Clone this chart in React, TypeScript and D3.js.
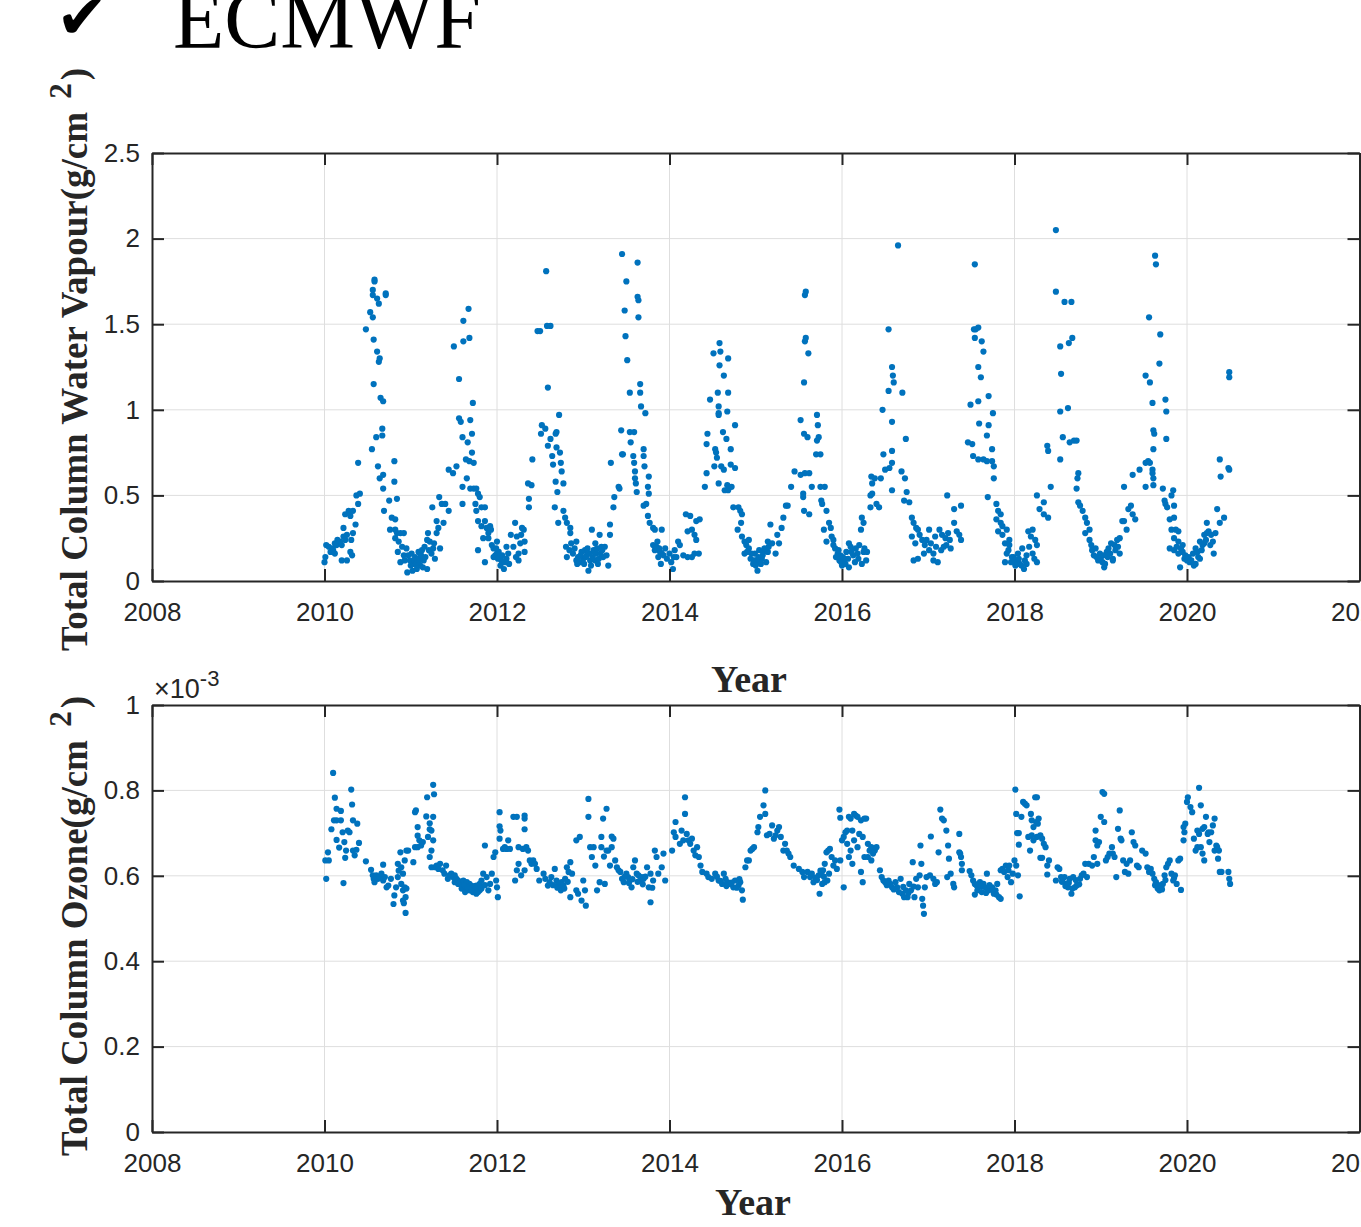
import React, { useEffect, useRef } from 'react';
import * as d3 from 'd3';

// tick values
const yearTicks = [2008, 2010, 2012, 2014, 2016, 2018, 2020, 2022];
const vapourTicks = [0, 0.5, 1, 1.5, 2, 2.5];
const ozoneTicks = [0, 0.2, 0.4, 0.6, 0.8, 1];

// [decimal year, g/cm^2]
const vapourData: [number, number][] = [
  [2010.00,0.11],[2010.01,0.14],[2010.02,0.21],[2010.05,0.20],[2010.07,0.17],[2010.09,0.19],[2010.10,0.18],[2010.12,0.22],[2010.12,0.16],[2010.14,0.21],[2010.15,0.24],[2010.18,0.23],[2010.20,0.21],[2010.20,0.12],[2010.22,0.26],[2010.22,0.31],[2010.24,0.24],[2010.24,0.39],[2010.26,0.27],[2010.26,0.12],[2010.28,0.41],[2010.30,0.17],[2010.30,0.38],[2010.31,0.24],[2010.32,0.15],[2010.33,0.28],[2010.33,0.41],[2010.36,0.33],[2010.37,0.50],[2010.39,0.45],[2010.39,0.69],[2010.41,0.51],
  [2010.48,1.47],[2010.53,1.57],[2010.55,0.77],[2010.56,1.54],[2010.56,1.70],[2010.56,1.67],[2010.57,1.41],[2010.57,1.15],[2010.58,1.76],[2010.58,1.75],[2010.60,0.84],[2010.61,1.65],[2010.61,1.34],[2010.62,0.67],[2010.63,1.62],[2010.63,1.28],[2010.64,1.30],[2010.64,0.60],[2010.65,1.07],[2010.67,0.89],[2010.67,0.85],[2010.68,1.05],[2010.68,0.62],[2010.68,0.54],[2010.69,0.41],[2010.71,1.68],[2010.71,1.67],[2010.75,0.47],[2010.76,0.30],[2010.78,0.37],[2010.81,0.70],[2010.81,0.58],[2010.82,0.36],[2010.82,0.30],[2010.82,0.25],[2010.84,0.48],[2010.84,0.28],
  [2010.85,0.17],[2010.86,0.23],[2010.88,0.28],[2010.88,0.11],[2010.90,0.20],[2010.92,0.28],[2010.92,0.15],[2010.93,0.12],[2010.95,0.19],[2010.96,0.05],[2010.99,0.12],[2011.01,0.16],[2011.02,0.06],[2011.03,0.10],[2011.05,0.14],[2011.07,0.07],[2011.08,0.13],[2011.09,0.17],[2011.11,0.09],[2011.13,0.18],[2011.15,0.12],[2011.17,0.14],[2011.19,0.07],[2011.19,0.24],[2011.20,0.28],[2011.22,0.23],[2011.24,0.16],[2011.25,0.43],[2011.26,0.19],[2011.28,0.13],[2011.30,0.28],[2011.30,0.35],[2011.32,0.31],[2011.33,0.49],[2011.34,0.19],[2011.36,0.45],[2011.38,0.34],[2011.40,0.45],[2011.44,0.41],
  [2010.97,0.15],[2011.00,0.09],[2011.04,0.12],[2011.06,0.10],[2011.10,0.12],[2011.12,0.15],[2011.14,0.08],[2011.16,0.20],[2011.21,0.18],[2011.27,0.22],
  [2011.44,0.65],[2011.49,0.63],[2011.50,1.37],[2011.53,0.67],[2011.56,1.18],[2011.56,0.95],[2011.58,0.93],[2011.60,0.45],[2011.60,0.84],[2011.60,0.55],[2011.61,1.52],[2011.61,1.40],[2011.64,0.71],[2011.65,0.60],[2011.66,0.81],[2011.67,1.59],[2011.68,1.42],[2011.68,0.70],[2011.69,0.94],[2011.69,0.54],[2011.71,0.86],[2011.71,0.75],[2011.72,1.04],[2011.73,0.69],[2011.73,0.54],[2011.75,0.45],[2011.76,0.54],[2011.76,0.41],[2011.78,0.51],[2011.78,0.35],[2011.78,0.18],[2011.80,0.49],[2011.82,0.43],[2011.82,0.32],[2011.84,0.25],[2011.86,0.43],[2011.86,0.35],[2011.86,0.11],[2011.88,0.31],[2011.90,0.28],[2011.90,0.25],[2011.92,0.32],[2011.93,0.30],
  [2011.96,0.19],[2011.96,0.14],[2011.98,0.15],[2012.00,0.23],[2012.00,0.16],[2012.02,0.17],[2012.03,0.14],[2012.05,0.12],[2012.08,0.07],[2012.11,0.13],[2012.11,0.20],[2012.14,0.10],[2012.16,0.27],[2012.21,0.34],[2012.23,0.26],[2012.25,0.16],[2012.25,0.12],[2012.27,0.22],[2012.29,0.31],[2012.31,0.30],[2012.32,0.23],[2012.32,0.17],
  [2011.94,0.21],[2011.99,0.19],[2012.01,0.13],[2012.04,0.09],[2012.06,0.15],[2012.09,0.11],[2012.13,0.16],[2012.19,0.20],[2012.22,0.14],[2012.28,0.27],
  [2012.36,0.57],[2012.37,0.48],[2012.37,0.43],[2012.40,0.56],[2012.41,0.71],[2012.47,1.46],[2012.50,1.46],[2012.51,0.86],[2012.52,0.91],[2012.56,0.89],[2012.57,1.81],[2012.58,1.49],[2012.59,1.13],[2012.59,0.79],[2012.62,1.49],[2012.62,0.83],[2012.64,0.73],[2012.65,0.68],[2012.67,0.43],[2012.68,0.86],[2012.68,0.58],[2012.69,0.87],[2012.69,0.78],[2012.70,0.52],[2012.71,0.34],[2012.72,0.97],[2012.73,0.75],[2012.74,0.69],[2012.75,0.64],[2012.77,0.57],[2012.77,0.41],[2012.79,0.37],[2012.80,0.20],[2012.81,0.34],[2012.81,0.14],[2012.85,0.31],[2012.85,0.28],[2012.86,0.22],
  [2012.88,0.16],[2012.92,0.23],[2012.92,0.12],[2012.94,0.14],[2012.96,0.11],[2012.98,0.17],[2013.00,0.13],[2013.02,0.18],[2013.04,0.15],[2013.06,0.06],[2013.08,0.12],[2013.10,0.30],[2013.12,0.18],[2013.14,0.22],[2013.14,0.12],[2013.15,0.16],[2013.17,0.10],[2013.19,0.27],[2013.21,0.20],[2013.23,0.14],[2013.25,0.20],[2013.27,0.15],[2013.29,0.09],[2013.31,0.27],[2013.31,0.33],
  [2012.84,0.18],[2012.90,0.19],[2012.93,0.10],[2012.97,0.15],[2013.01,0.10],[2013.03,0.14],[2013.05,0.19],[2013.07,0.16],[2013.09,0.09],[2013.11,0.14],[2013.13,0.17],[2013.16,0.19],[2013.18,0.13],[2013.20,0.16],[2013.22,0.18],
  [2013.32,0.69],[2013.35,0.43],[2013.36,0.49],[2013.41,0.55],[2013.42,0.54],[2013.44,0.88],[2013.45,1.91],[2013.45,0.74],[2013.46,0.74],[2013.48,1.58],[2013.49,1.43],[2013.50,1.75],[2013.51,1.29],[2013.54,1.10],[2013.54,0.87],[2013.55,0.81],[2013.58,0.73],[2013.59,0.87],[2013.59,0.69],[2013.60,0.64],[2013.60,0.60],[2013.61,0.57],[2013.62,0.52],[2013.63,1.86],[2013.63,1.66],[2013.64,1.64],[2013.64,1.54],[2013.66,1.15],[2013.66,1.10],[2013.67,1.02],[2013.70,0.77],[2013.70,0.73],[2013.70,0.44],[2013.71,0.67],[2013.72,0.98],[2013.73,0.45],[2013.75,0.55],[2013.75,0.38],[2013.76,0.61],[2013.76,0.51],[2013.77,0.34],[2013.81,0.31],[2013.81,0.21],[2013.83,0.30],[2013.83,0.18],[2013.85,0.20],[2013.87,0.14],[2013.89,0.17],[2013.90,0.10],[2013.91,0.30],[2013.91,0.16],
  [2013.86,0.23],[2013.88,0.19],[2013.93,0.15],[2013.95,0.19],[2013.97,0.13],[2014.00,0.16],[2014.05,0.14],
  [2014.02,0.11],[2014.04,0.07],[2014.06,0.18],[2014.08,0.14],[2014.10,0.23],[2014.12,0.21],[2014.16,0.15],[2014.19,0.39],[2014.21,0.29],[2014.21,0.14],[2014.24,0.38],[2014.26,0.30],[2014.26,0.14],[2014.29,0.27],[2014.29,0.16],[2014.31,0.35],[2014.31,0.24],[2014.34,0.16],[2014.35,0.36],
  [2014.41,0.55],[2014.43,0.63],[2014.43,0.80],[2014.44,0.86],[2014.47,1.06],[2014.51,1.33],[2014.52,0.67],[2014.53,0.77],[2014.54,0.75],[2014.55,0.72],[2014.56,1.10],[2014.57,1.02],[2014.57,0.98],[2014.57,0.97],[2014.57,0.57],[2014.58,1.39],[2014.58,1.26],[2014.59,1.34],[2014.60,0.67],[2014.62,0.87],[2014.63,1.20],[2014.63,0.65],[2014.64,0.53],[2014.66,0.83],[2014.67,0.99],[2014.67,0.56],[2014.68,1.30],[2014.68,1.10],[2014.68,0.53],[2014.71,0.77],[2014.71,0.68],[2014.72,0.55],[2014.74,0.43],[2014.76,0.91],[2014.76,0.66],[2014.79,0.30],[2014.80,0.43],[2014.82,0.41],[2014.83,0.34],[2014.84,0.39],
  [2014.84,0.26],[2014.87,0.23],[2014.87,0.16],[2014.89,0.21],[2014.92,0.19],[2014.92,0.24],[2014.94,0.13],[2014.97,0.10],[2014.99,0.16],[2015.01,0.12],[2015.02,0.06],[2015.04,0.18],[2015.06,0.10],[2015.07,0.13],[2015.09,0.17],[2015.12,0.11],[2015.14,0.23],[2015.14,0.17],[2015.17,0.33],[2015.19,0.22],[2015.23,0.16],[2015.25,0.27],[2015.27,0.22],[2015.30,0.31],[2015.32,0.37],[2015.35,0.44],[2015.37,0.44],
  [2014.90,0.17],[2014.95,0.16],[2014.98,0.12],[2015.00,0.09],[2015.03,0.14],[2015.05,0.11],[2015.08,0.15],[2015.10,0.19],[2015.15,0.20],
  [2015.41,0.55],[2015.45,0.64],[2015.52,0.62],[2015.52,0.94],[2015.55,0.51],[2015.55,0.49],[2015.56,0.86],[2015.56,1.16],[2015.56,0.41],[2015.57,0.63],[2015.57,1.67],[2015.57,1.40],[2015.58,1.69],[2015.58,1.42],[2015.60,0.84],[2015.61,1.33],[2015.62,0.63],[2015.62,0.39],[2015.65,0.55],[2015.70,0.74],[2015.71,0.97],[2015.71,0.82],[2015.72,0.91],[2015.73,0.84],[2015.75,0.74],[2015.75,0.55],[2015.76,0.47],[2015.77,0.45],[2015.79,0.30],[2015.80,0.55],[2015.82,0.41],[2015.82,0.23],[2015.85,0.34],[2015.87,0.31],
  [2015.90,0.24],[2015.90,0.21],[2015.92,0.19],[2015.95,0.16],[2015.97,0.12],[2015.98,0.15],[2016.00,0.09],[2016.03,0.13],[2016.05,0.17],[2016.08,0.22],[2016.08,0.08],[2016.10,0.20],[2016.13,0.15],[2016.15,0.11],[2016.18,0.16],[2016.20,0.21],[2016.22,0.30],[2016.23,0.10],[2016.23,0.37],[2016.25,0.17],[2016.25,0.34],[2016.28,0.12],[2016.29,0.17],
  [2015.88,0.26],[2015.93,0.14],[2015.96,0.18],[2015.99,0.11],[2016.01,0.14],[2016.04,0.10],[2016.07,0.13],[2016.11,0.17],[2016.16,0.19],[2016.19,0.13],[2016.26,0.19],
  [2016.33,0.50],[2016.33,0.43],[2016.34,0.61],[2016.35,0.51],[2016.35,0.57],[2016.38,0.60],[2016.40,0.45],[2016.43,0.43],[2016.45,0.60],[2016.47,1.00],[2016.48,0.74],[2016.50,0.65],[2016.54,1.11],[2016.54,1.47],[2016.55,0.66],[2016.58,0.69],[2016.58,0.76],[2016.58,0.53],[2016.58,1.25],[2016.58,0.93],[2016.59,1.20],[2016.60,1.16],[2016.65,1.96],[2016.69,0.64],[2016.70,1.10],[2016.72,0.47],[2016.73,0.60],[2016.74,0.83],[2016.75,0.52],[2016.78,0.46],
  [2016.81,0.37],[2016.81,0.26],[2016.83,0.34],[2016.83,0.12],[2016.86,0.31],[2016.88,0.30],[2016.88,0.13],[2016.93,0.24],[2016.96,0.21],[2017.01,0.18],[2017.01,0.30],[2017.06,0.16],[2017.06,0.12],[2017.08,0.26],[2017.11,0.11],[2017.13,0.30],[2017.16,0.27],[2017.18,0.20],[2017.21,0.21],[2017.22,0.50],[2017.23,0.28],[2017.26,0.19],[2017.30,0.42],[2017.30,0.34],[2017.33,0.29],[2017.36,0.27],[2017.38,0.44],[2017.38,0.24],
  [2016.85,0.22],[2016.90,0.27],[2016.95,0.16],[2016.98,0.24],[2017.03,0.22],[2017.09,0.20],[2017.15,0.18],[2017.20,0.25],[2017.25,0.24],
  [2017.46,0.81],[2017.49,1.03],[2017.51,0.80],[2017.52,0.73],[2017.53,1.47],[2017.54,1.42],[2017.54,1.85],[2017.55,1.47],[2017.58,0.71],[2017.58,1.48],[2017.58,1.25],[2017.58,1.05],[2017.59,0.92],[2017.61,1.19],[2017.62,1.40],[2017.64,0.71],[2017.64,1.34],[2017.68,0.70],[2017.68,0.85],[2017.69,0.49],[2017.70,1.08],[2017.70,0.91],[2017.74,0.70],[2017.74,0.77],[2017.75,0.98],[2017.76,0.67],[2017.76,0.60],[2017.79,0.45],[2017.79,0.36],[2017.81,0.41],[2017.81,0.29],[2017.84,0.39],[2017.84,0.34],[2017.86,0.32],[2017.86,0.27],
  [2017.89,0.22],[2017.89,0.11],[2017.91,0.30],[2017.91,0.16],[2017.94,0.24],[2017.94,0.21],[2017.96,0.11],[2017.99,0.14],[2018.01,0.09],[2018.04,0.16],[2018.06,0.10],[2018.09,0.19],[2018.11,0.07],[2018.14,0.15],[2018.14,0.10],[2018.16,0.29],[2018.19,0.26],[2018.21,0.30],[2018.21,0.16],[2018.24,0.24],[2018.26,0.21],[2018.26,0.11],[2018.26,0.50],[2018.29,0.42],[2018.34,0.46],[2018.34,0.39],[2018.39,0.37],[2018.42,0.55],
  [2017.93,0.18],[2017.97,0.14],[2018.00,0.12],[2018.03,0.10],[2018.05,0.13],[2018.08,0.09],[2018.12,0.12],[2018.17,0.20],[2018.23,0.13],
  [2018.38,0.79],[2018.39,0.76],[2018.48,2.05],[2018.48,1.69],[2018.53,1.37],[2018.53,0.99],[2018.53,0.71],[2018.54,1.21],[2018.56,0.84],[2018.58,1.63],[2018.62,1.01],[2018.63,1.39],[2018.64,0.81],[2018.66,1.63],[2018.67,1.42],[2018.69,0.82],[2018.72,0.82],[2018.72,0.54],[2018.73,0.60],[2018.74,0.63],[2018.74,0.46],[2018.76,0.44],[2018.79,0.41],[2018.82,0.37],[2018.82,0.28],[2018.84,0.34],[2018.87,0.30],
  [2018.87,0.24],[2018.89,0.21],[2018.92,0.15],[2018.94,0.19],[2018.97,0.12],[2018.99,0.16],[2019.02,0.11],[2019.04,0.08],[2019.07,0.17],[2019.09,0.19],[2019.12,0.22],[2019.14,0.13],[2019.14,0.12],[2019.17,0.18],[2019.19,0.24],[2019.22,0.25],[2019.22,0.16],[2019.25,0.35],[2019.27,0.35],[2019.27,0.55],[2019.30,0.30],[2019.32,0.42],[2019.35,0.44],[2019.37,0.39],[2019.37,0.62],[2019.40,0.36],[2019.45,0.65],
  [2018.90,0.18],[2018.95,0.14],[2019.00,0.13],[2019.03,0.15],[2019.05,0.10],[2019.08,0.14],[2019.11,0.16],[2019.16,0.21],[2019.20,0.20],
  [2019.52,0.55],[2019.52,0.69],[2019.52,1.20],[2019.55,0.70],[2019.56,1.54],[2019.57,0.69],[2019.57,1.16],[2019.60,0.65],[2019.60,0.63],[2019.60,1.04],[2019.61,0.60],[2019.61,0.56],[2019.61,0.77],[2019.61,0.88],[2019.62,0.86],[2019.63,1.90],[2019.64,1.85],[2019.68,1.27],[2019.69,1.44],[2019.72,0.54],[2019.74,0.47],[2019.75,1.06],[2019.75,0.45],[2019.76,0.99],[2019.76,0.83],[2019.77,0.43],[2019.80,0.36],[2019.82,0.50],[2019.84,0.53],[2019.85,0.44],[2019.85,0.37],[2019.87,0.30],
  [2019.80,0.19],[2019.82,0.30],[2019.85,0.25],[2019.85,0.18],[2019.90,0.29],[2019.90,0.23],[2019.90,0.16],[2019.92,0.08],[2019.95,0.21],[2019.95,0.17],[2019.97,0.13],[2020.00,0.12],[2020.03,0.11],[2020.08,0.09],[2020.10,0.10],[2020.10,0.19],[2020.13,0.14],[2020.15,0.13],[2020.15,0.23],[2020.18,0.21],[2020.20,0.27],[2020.20,0.22],[2020.23,0.28],[2020.23,0.34],[2020.25,0.29],[2020.28,0.27],[2020.30,0.23],[2020.31,0.16],[2020.33,0.28],[2020.35,0.42],[2020.38,0.34],[2020.43,0.37],
  [2019.88,0.20],[2019.93,0.19],[2019.98,0.15],[2020.02,0.14],[2020.05,0.12],[2020.07,0.16],[2020.12,0.17],[2020.17,0.18],[2020.22,0.24],[2020.27,0.21],
  [2020.38,0.71],[2020.39,0.61],[2020.48,0.66],[2020.49,0.65],[2020.49,1.22],[2020.49,1.19],
];

// [decimal year, g/cm^2 x 10^-3]
const ozoneData: [number, number][] = [
  [2010.01,0.636],[2010.02,0.593],[2010.04,0.655],[2010.05,0.636],[2010.08,0.709],[2010.10,0.841],[2010.11,0.730],[2010.12,0.783],[2010.14,0.757],[2010.14,0.684],[2010.14,0.730],[2010.17,0.666],[2010.19,0.730],[2010.19,0.752],[2010.21,0.702],[2010.22,0.583],[2010.23,0.679],[2010.24,0.642],[2010.25,0.659],[2010.27,0.706],[2010.29,0.702],[2010.31,0.802],[2010.32,0.767],[2010.33,0.730],[2010.33,0.659],[2010.35,0.648],[2010.37,0.661],[2010.38,0.722],[2010.40,0.677],[2010.48,0.634],[2010.54,0.614],[2010.56,0.601],[2010.57,0.593],[2010.58,0.585],[2010.60,0.601],[2010.62,0.593],[2010.64,0.597],[2010.66,0.605],[2010.68,0.626],[2010.68,0.589],[2010.70,0.597],[2010.72,0.573],[2010.74,0.577],[2010.77,0.593],[2010.80,0.534],[2010.81,0.554],[2010.83,0.573],[2010.85,0.628],[2010.85,0.597],[2010.86,0.612],[2010.88,0.655],[2010.89,0.581],[2010.89,0.620],[2010.91,0.566],[2010.91,0.542],[2010.91,0.605],[2010.92,0.536],[2010.93,0.573],[2010.93,0.636],[2010.94,0.550],[2010.94,0.513],[2010.95,0.570],[2010.95,0.659],[2010.97,0.659],
  [2011.03,0.632],[2011.05,0.667],[2011.05,0.749],[2011.06,0.753],[2011.08,0.714],[2011.08,0.694],[2011.08,0.667],[2011.10,0.683],[2011.12,0.671],[2011.14,0.679],[2011.18,0.739],[2011.19,0.784],[2011.20,0.691],[2011.22,0.723],[2011.22,0.709],[2011.22,0.644],[2011.24,0.706],[2011.24,0.659],[2011.24,0.620],[2011.26,0.813],[2011.26,0.738],[2011.26,0.683],[2011.27,0.791],[2011.28,0.620],[2011.30,0.624],[2011.32,0.616],[2011.34,0.628],[2011.37,0.613],[2011.39,0.605],[2011.41,0.624],[2011.43,0.593],[2011.45,0.601],[2011.47,0.605],[2011.49,0.597],[2011.51,0.601],[2011.51,0.585],[2011.53,0.593],[2011.55,0.589],[2011.55,0.581],[2011.57,0.585],[2011.59,0.581],[2011.59,0.570],[2011.61,0.589],[2011.63,0.573],[2011.63,0.562],[2011.65,0.585],[2011.68,0.581],[2011.68,0.566],[2011.70,0.577],[2011.72,0.573],[2011.72,0.562],[2011.74,0.570],[2011.76,0.577],[2011.76,0.558],[2011.78,0.573],[2011.80,0.581],[2011.80,0.566],[2011.82,0.589],[2011.84,0.605],[2011.86,0.671],[2011.88,0.597],[2011.90,0.566],[2011.92,0.581],[2011.94,0.605],[2011.96,0.644],[2011.98,0.655],[2011.99,0.589],[2012.00,0.573],[2012.01,0.550],
  [2011.62,0.578],[2011.66,0.572],[2011.70,0.568],[2011.74,0.576],[2011.78,0.562],[2011.82,0.570],[2011.86,0.578],
  [2012.03,0.749],[2012.03,0.716],[2012.04,0.706],[2012.03,0.687],[2012.07,0.663],[2012.09,0.667],[2012.11,0.663],[2012.13,0.683],[2012.15,0.663],[2012.19,0.738],[2012.21,0.589],[2012.23,0.738],[2012.23,0.613],[2012.25,0.667],[2012.25,0.628],[2012.28,0.601],[2012.30,0.663],[2012.32,0.741],[2012.32,0.734],[2012.32,0.709],[2012.32,0.613],[2012.34,0.667],[2012.36,0.659],[2012.38,0.636],[2012.40,0.628],[2012.42,0.636],[2012.44,0.628],[2012.46,0.616],[2012.49,0.589],[2012.54,0.605],[2012.56,0.593],[2012.59,0.577],[2012.63,0.597],[2012.67,0.616],[2012.69,0.589],[2012.71,0.581],[2012.73,0.573],[2012.75,0.585],[2012.77,0.577],[2012.79,0.593],[2012.81,0.620],[2012.83,0.609],[2012.85,0.632],[2012.85,0.550],[2012.87,0.605],[2012.92,0.566],[2012.92,0.683],[2012.94,0.558],[2012.96,0.691],[2012.98,0.542],[2013.00,0.589],[2013.02,0.566],[2013.03,0.530],
  [2012.61,0.585],[2012.65,0.578],[2012.70,0.572],[2012.74,0.566],[2012.78,0.570],[2012.82,0.586],
  [2013.06,0.780],[2013.06,0.738],[2013.08,0.667],[2013.10,0.644],[2013.12,0.667],[2013.14,0.624],[2013.16,0.566],[2013.19,0.585],[2013.21,0.691],[2013.21,0.667],[2013.23,0.734],[2013.24,0.645],[2013.25,0.581],[2013.27,0.757],[2013.27,0.659],[2013.29,0.659],[2013.31,0.624],[2013.33,0.692],[2013.33,0.667],[2013.35,0.687],[2013.37,0.636],[2013.39,0.620],[2013.41,0.613],[2013.43,0.609],[2013.45,0.593],[2013.47,0.585],[2013.50,0.605],[2013.52,0.597],[2013.54,0.589],[2013.56,0.573],[2013.58,0.620],[2013.60,0.636],[2013.62,0.605],[2013.64,0.601],[2013.66,0.589],[2013.68,0.597],[2013.70,0.593],[2013.74,0.620],[2013.76,0.573],[2013.78,0.538],[2013.78,0.605],[2013.81,0.589],[2013.83,0.659],[2013.85,0.644],[2013.87,0.605],[2013.91,0.620],[2013.93,0.652],[2013.95,0.589],
  [2013.48,0.598],[2013.53,0.583],[2013.57,0.592],[2013.63,0.586],[2013.69,0.580],[2013.72,0.598],[2013.80,0.572],
  [2014.03,0.659],[2014.05,0.702],[2014.07,0.726],[2014.07,0.691],[2014.12,0.675],[2014.14,0.706],[2014.16,0.683],[2014.18,0.784],[2014.18,0.745],[2014.20,0.698],[2014.22,0.683],[2014.24,0.675],[2014.26,0.687],[2014.28,0.659],[2014.30,0.648],[2014.32,0.667],[2014.34,0.644],[2014.36,0.624],[2014.38,0.609],[2014.43,0.605],[2014.45,0.597],[2014.49,0.593],[2014.53,0.605],[2014.57,0.589],[2014.61,0.581],[2014.63,0.605],[2014.65,0.593],[2014.67,0.585],[2014.70,0.581],[2014.74,0.573],[2014.76,0.589],[2014.80,0.577],[2014.82,0.585],[2014.84,0.566],[2014.85,0.544],[2014.88,0.620],[2014.90,0.636],[2014.92,0.636],[2014.94,0.659],[2014.96,0.663],[2014.98,0.667],
  [2014.55,0.598],[2014.59,0.588],[2014.66,0.576],[2014.72,0.584],[2014.78,0.572],[2014.81,0.592],
  [2015.02,0.702],[2015.03,0.714],[2015.05,0.738],[2015.09,0.765],[2015.11,0.800],[2015.11,0.745],[2015.13,0.695],[2015.16,0.698],[2015.19,0.718],[2015.21,0.687],[2015.23,0.695],[2015.25,0.706],[2015.27,0.714],[2015.29,0.691],[2015.32,0.659],[2015.34,0.675],[2015.36,0.659],[2015.38,0.652],[2015.40,0.644],[2015.44,0.624],[2015.50,0.616],[2015.54,0.609],[2015.56,0.597],[2015.60,0.609],[2015.63,0.597],[2015.65,0.605],[2015.67,0.585],[2015.73,0.601],[2015.74,0.558],[2015.76,0.605],[2015.77,0.581],[2015.78,0.613],[2015.80,0.585],[2015.80,0.628],[2015.82,0.655],[2015.83,0.589],[2015.84,0.659],[2015.85,0.605],[2015.86,0.663],[2015.88,0.644],[2015.90,0.624],[2015.92,0.636],[2015.94,0.616],[2015.97,0.755],[2015.98,0.736],[2015.98,0.636],
  [2015.69,0.596],[2015.71,0.590],[2015.75,0.612],[2015.79,0.598],
  [2016.00,0.683],[2016.02,0.691],[2016.02,0.573],[2016.04,0.702],[2016.06,0.706],[2016.06,0.675],[2016.08,0.738],[2016.08,0.644],[2016.10,0.734],[2016.10,0.659],[2016.12,0.706],[2016.12,0.628],[2016.14,0.745],[2016.14,0.683],[2016.16,0.741],[2016.18,0.738],[2016.18,0.667],[2016.20,0.698],[2016.22,0.730],[2016.22,0.609],[2016.24,0.691],[2016.24,0.585],[2016.26,0.734],[2016.26,0.644],[2016.28,0.734],[2016.30,0.675],[2016.30,0.644],[2016.32,0.659],[2016.34,0.667],[2016.34,0.636],[2016.36,0.652],[2016.38,0.659],[2016.40,0.667],[2016.44,0.613],[2016.46,0.597],[2016.48,0.589],[2016.50,0.585],[2016.54,0.589],[2016.56,0.581],[2016.58,0.573],[2016.62,0.585],[2016.64,0.573],[2016.68,0.593],[2016.70,0.558],[2016.72,0.550],[2016.74,0.566],[2016.76,0.550],[2016.78,0.581],[2016.80,0.566],[2016.82,0.632],[2016.84,0.550],[2016.86,0.593],[2016.88,0.573],[2016.90,0.601],[2016.91,0.671],[2016.92,0.628],[2016.93,0.546],[2016.94,0.530],[2016.95,0.511],[2016.96,0.573],[2016.98,0.597],
  [2016.52,0.578],[2016.60,0.568],[2016.66,0.562],[2016.71,0.574],[2016.77,0.560],[2016.83,0.575],
  [2017.02,0.601],[2017.03,0.692],[2017.06,0.593],[2017.08,0.581],[2017.10,0.585],[2017.12,0.655],[2017.14,0.755],[2017.16,0.734],[2017.18,0.730],[2017.21,0.706],[2017.22,0.597],[2017.23,0.671],[2017.24,0.640],[2017.26,0.605],[2017.29,0.581],[2017.30,0.573],[2017.36,0.698],[2017.36,0.655],[2017.37,0.652],[2017.38,0.644],[2017.39,0.628],[2017.39,0.613],[2017.48,0.611],[2017.50,0.601],[2017.52,0.589],[2017.54,0.581],[2017.54,0.556],[2017.56,0.577],[2017.58,0.573],[2017.60,0.585],[2017.62,0.562],[2017.64,0.581],[2017.66,0.573],[2017.68,0.605],[2017.70,0.566],[2017.72,0.570],[2017.74,0.573],[2017.76,0.558],[2017.78,0.566],[2017.80,0.581],[2017.82,0.550],[2017.84,0.546],[2017.84,0.613],[2017.86,0.616],[2017.88,0.609],[2017.90,0.624],[2017.92,0.597],[2017.93,0.613],[2017.94,0.624],[2017.96,0.585],[2017.98,0.605],
  [2017.57,0.566],[2017.61,0.575],[2017.67,0.560],[2017.71,0.578],[2017.75,0.566],[2017.79,0.556],
  [2018.00,0.636],[2018.01,0.802],[2018.02,0.624],[2018.02,0.745],[2018.03,0.700],[2018.04,0.601],[2018.05,0.673],[2018.05,0.700],[2018.06,0.552],[2018.08,0.738],[2018.10,0.773],[2018.12,0.769],[2018.14,0.765],[2018.16,0.691],[2018.18,0.659],[2018.19,0.745],[2018.20,0.695],[2018.20,0.730],[2018.22,0.683],[2018.22,0.714],[2018.24,0.784],[2018.25,0.726],[2018.26,0.784],[2018.26,0.691],[2018.27,0.722],[2018.28,0.734],[2018.30,0.695],[2018.30,0.642],[2018.32,0.687],[2018.32,0.642],[2018.34,0.675],[2018.36,0.667],[2018.38,0.624],[2018.38,0.603],[2018.40,0.636],[2018.48,0.589],[2018.50,0.620],[2018.52,0.616],[2018.54,0.597],[2018.56,0.593],[2018.58,0.597],[2018.60,0.581],[2018.62,0.573],[2018.64,0.593],[2018.66,0.558],[2018.68,0.597],[2018.70,0.573],[2018.72,0.577],[2018.76,0.593],[2018.78,0.601],[2018.80,0.605],[2018.82,0.628],[2018.84,0.597],[2018.86,0.628],[2018.90,0.624],[2018.92,0.644],[2018.94,0.706],[2018.94,0.683],[2018.96,0.671],[2018.96,0.628],[2018.98,0.679],
  [2018.55,0.586],[2018.59,0.576],[2018.63,0.584],[2018.67,0.570],[2018.71,0.590],[2018.75,0.580],
  [2019.00,0.738],[2019.02,0.796],[2019.04,0.792],[2019.04,0.726],[2019.06,0.636],[2019.08,0.644],[2019.10,0.652],[2019.13,0.667],[2019.14,0.652],[2019.16,0.644],[2019.18,0.597],[2019.20,0.710],[2019.22,0.753],[2019.23,0.687],[2019.24,0.683],[2019.26,0.636],[2019.28,0.609],[2019.30,0.628],[2019.32,0.605],[2019.34,0.636],[2019.36,0.702],[2019.38,0.679],[2019.40,0.671],[2019.42,0.624],[2019.44,0.620],[2019.48,0.659],[2019.52,0.652],[2019.54,0.620],[2019.56,0.609],[2019.58,0.616],[2019.60,0.605],[2019.62,0.593],[2019.64,0.585],[2019.66,0.570],[2019.68,0.566],[2019.70,0.573],[2019.72,0.581],[2019.74,0.601],[2019.76,0.620],[2019.78,0.628],[2019.80,0.636],[2019.82,0.605],[2019.84,0.589],[2019.86,0.601],[2019.88,0.581],[2019.90,0.636],[2019.92,0.640],[2019.93,0.567],[2019.96,0.683],[2019.96,0.714],[2019.97,0.702],[2019.98,0.722],
  [2019.63,0.578],[2019.67,0.578],[2019.71,0.568],[2019.75,0.590],[2019.85,0.595],
  [2020.00,0.773],[2020.01,0.784],[2020.04,0.761],[2020.06,0.749],[2020.08,0.687],[2020.10,0.659],[2020.12,0.667],[2020.12,0.706],[2020.14,0.806],[2020.14,0.698],[2020.16,0.765],[2020.16,0.667],[2020.18,0.710],[2020.18,0.652],[2020.20,0.714],[2020.20,0.636],[2020.22,0.738],[2020.24,0.698],[2020.25,0.702],[2020.26,0.679],[2020.28,0.702],[2020.30,0.718],[2020.32,0.734],[2020.32,0.659],[2020.34,0.671],[2020.35,0.667],[2020.36,0.640],[2020.37,0.659],[2020.38,0.609],[2020.40,0.609],[2020.48,0.609],[2020.49,0.593],[2020.50,0.581],
];

const App = () => {
  const ref = useRef<SVGSVGElement>(null);

  useEffect(() => {
    const svg = d3.select(ref.current);
    svg.selectAll('*').remove();

    const width = 1361;
    const height = 1227;
    const left = 152;
    const right = 1359.5;
    const ink = '#262626';
    const dot = '#0072BD';
    const sans = "'Liberation Sans', Arial, Helvetica, sans-serif";
    const serif = "'Liberation Serif', 'Times New Roman', serif";

    svg.attr('width', width).attr('height', height);
    svg.append('rect').attr('width', width).attr('height', height).attr('fill', '#fff');

    const x = d3.scaleLinear().domain([2008, 2022]).range([left, right]);

    const panel = (
      top: number,
      bottom: number,
      ymax: number,
      yticks: number[],
      data: [number, number][],
      label: string,
      yearX: number,
      yearY: number,
      labelStart: number,
    ) => {
      const y = d3.scaleLinear().domain([0, ymax]).range([bottom, top]);
      const g = svg.append('g');

      // grid
      g.append('g')
        .selectAll('line')
        .data(yearTicks.slice(1, -1))
        .enter()
        .append('line')
        .attr('x1', d => x(d)).attr('x2', d => x(d))
        .attr('y1', top).attr('y2', bottom)
        .attr('stroke', '#dedede').attr('stroke-width', 1);
      g.append('g')
        .selectAll('line')
        .data(yticks.slice(1, -1))
        .enter()
        .append('line')
        .attr('y1', d => y(d)).attr('y2', d => y(d))
        .attr('x1', left).attr('x2', right)
        .attr('stroke', '#dedede').attr('stroke-width', 1);

      // points
      g.append('g')
        .selectAll('circle')
        .data(data)
        .enter()
        .append('circle')
        .attr('cx', d => x(d[0]))
        .attr('cy', d => y(d[1]))
        .attr('r', 3.1)
        .attr('fill', dot);

      // axes (box with inward ticks)
      const style = (a: d3.Selection<SVGGElement, unknown, null, undefined>) => {
        a.attr('font-family', sans).attr('font-size', 26);
        a.selectAll('.domain').attr('stroke', ink).attr('stroke-width', 2);
        a.selectAll('.tick line').attr('stroke', ink).attr('stroke-width', 2);
        a.selectAll('.tick text').attr('fill', ink);
      };
      g.append('g')
        .attr('transform', `translate(0,${bottom})`)
        .call(d3.axisBottom(x).tickValues(yearTicks).tickFormat(d3.format('d')).tickSize(-12).tickSizeOuter(0).tickPadding(22))
        .call(style);
      g.append('g')
        .attr('transform', `translate(0,${top})`)
        .call(d3.axisTop(x).tickValues(yearTicks).tickFormat(() => '').tickSize(-12).tickSizeOuter(0))
        .call(style);
      g.append('g')
        .attr('transform', `translate(${left},0)`)
        .call(d3.axisLeft(y).tickValues(yticks).tickFormat(d => `${d}`).tickSize(-12).tickSizeOuter(0).tickPadding(12))
        .call(style);
      g.append('g')
        .attr('transform', `translate(${right},0)`)
        .call(d3.axisRight(y).tickValues(yticks).tickFormat(() => '').tickSize(-12).tickSizeOuter(0))
        .call(style);

      // x label
      svg.append('text')
        .attr('x', yearX)
        .attr('y', yearY)
        .attr('text-anchor', 'middle')
        .attr('font-family', serif)
        .attr('font-weight', 'bold')
        .attr('font-size', 38)
        .attr('fill', ink)
        .text('Year');

      // y label with superscript
      const t = svg.append('text')
        .attr('transform', `translate(87,${labelStart}) rotate(-90)`)
        .attr('text-anchor', 'start')
        .attr('font-family', serif)
        .attr('font-weight', 'bold')
        .attr('font-size', 37)
        .attr('fill', ink);
      t.append('tspan').text(`${label}(g/cm `);
      t.append('tspan').attr('dx', 4).attr('dy', -16).attr('font-size', 31).text('2');
      t.append('tspan').attr('dx', 3).attr('dy', 16).text(')');
    };

    panel(153, 581, 2.5, vapourTicks, vapourData, 'Total Column Water Vapour', 749, 692, 651);
    panel(705, 1132, 1, ozoneTicks, ozoneData, 'Total Column Ozone', 753, 1215, 1156);

    // exponent marker
    const ex = svg.append('text')
      .attr('x', 154)
      .attr('y', 698)
      .attr('font-family', sans)
      .attr('font-size', 27)
      .attr('fill', ink);
    ex.append('tspan').text('\u00d710');
    ex.append('tspan').attr('dy', -12).attr('font-size', 22).text('-3');

    // title
    svg.append('text')
      .attr('x', 56)
      .attr('y', 38)
      .attr('font-family', "'DejaVu Sans', sans-serif")
      .attr('font-size', 62)
      .attr('fill', '#000')
      .text('\u2714');
    svg.append('text')
      .attr('x', 173)
      .attr('y', 48)
      .attr('font-family', serif)
      .attr('font-size', 84)
      .attr('fill', '#000')
      .text('ECMWF');
  }, []);

  return <svg ref={ref} style={{ position: 'absolute', left: 0, top: 0, display: 'block' }}></svg>;
};

export default App;
